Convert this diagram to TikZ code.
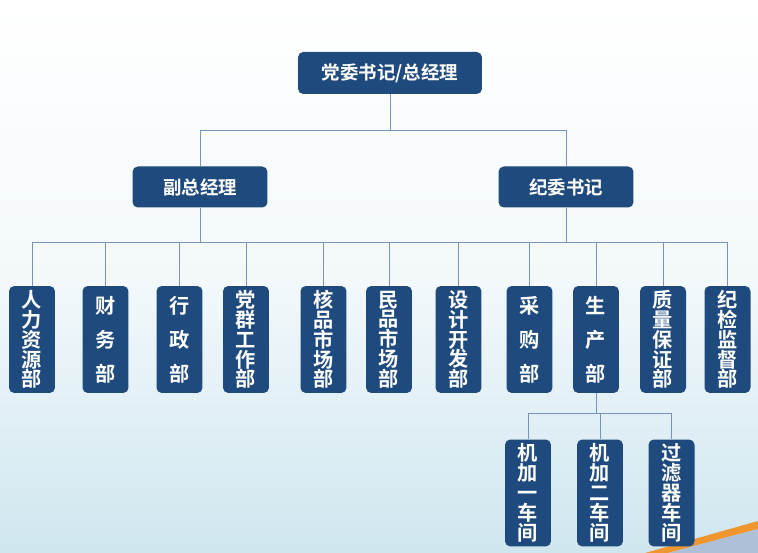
\documentclass[tikz,border=0pt]{standalone}
\usepackage{fontspec}
\newfontfamily\cjk{Noto Sans CJK SC Bold}
\usetikzlibrary{positioning}
\definecolor{boxblue}{HTML}{1F4A7E}
\definecolor{linkblue}{HTML}{7894BE}
\definecolor{bgblue}{HTML}{CFE6EF}
\definecolor{swoosh}{HTML}{F0962E}

\begin{document}
\begin{tikzpicture}[x=0.02cm,y=-0.02cm,
  head/.style={rectangle,rounded corners=3pt,fill=boxblue,text=white,align=center,inner sep=0pt,font=\cjk\fontsize{10.5}{12}\selectfont},
  dept/.style={rectangle,rounded corners=3pt,fill=boxblue,text=white,align=center,inner sep=0pt,minimum width=0.92cm,minimum height=2.14cm,font=\cjk\fontsize{11.5}{11.3}\selectfont},
  link/.style={draw=linkblue,line width=0.5pt}
]

% Hintergrund
\useasboundingbox (0,0) rectangle (758,553);
\shade[top color=white,bottom color=bgblue,middle color=white!75!bgblue] (0,0) rectangle (758,553);
\fill[swoosh] (645,553) -- (758,521) -- (758,529) -- (668,553) -- cycle;
\fill[linkblue!60] (668,553) -- (758,529) -- (758,553) -- cycle;

% Leitung
\node[head,minimum width=3.68cm,minimum height=0.84cm] (top) at (390,73) {党委书记/总经理};
\node[head,minimum width=2.7cm,minimum height=0.82cm] (fu) at (200,187) {副总经理};
\node[head,minimum width=2.7cm,minimum height=0.82cm] (ji) at (566,187) {纪委书记};

% Abteilungen
\node[dept] (hr) at (32,339.5) {人\\力\\资\\源\\部};
\node[dept] (cw) at (105.5,339.5) {财\\[8pt]务\\[8pt]部};
\node[dept] (xz) at (179.5,339.5) {行\\[8pt]政\\[8pt]部};
\node[dept] (dq) at (246,339.5) {党\\群\\工\\作\\部};
\node[dept] (hp) at (323.5,339.5) {核\\品\\市\\场\\部};
\node[dept] (mp) at (389,339.5) {民\\品\\市\\场\\部};
\node[dept] (sj) at (458.5,339.5) {设\\计\\开\\发\\部};
\node[dept] (cg) at (529.5,339.5) {采\\[8pt]购\\[8pt]部};
\node[dept] (sc) at (596,339.5) {生\\[8pt]产\\[8pt]部};
\node[dept] (zl) at (663,339.5) {质\\量\\保\\证\\部};
\node[dept] (jj) at (727.5,339.5) {纪\\检\\监\\督\\部};

% Werkstaetten
\node[dept] (j1) at (528,493) {机\\加\\一\\车\\间};
\node[dept] (j2) at (600,493) {机\\加\\二\\车\\间};
\node[dept] (gl) at (671.5,493) {过\\滤\\器\\车\\间};

% Verbindungen
\coordinate (bus1) at (390,130);
\coordinate (bus2) at (390,242);
\coordinate (bus3) at (600,413);
\draw[link] (top) -- (bus1);
\draw[link] (fu.north) |- (bus1);
\draw[link] (ji.north) |- (bus1);
\draw[link] (fu.south) -- (fu.south |- bus2);
\draw[link] (ji.south) -- (ji.south |- bus2);
\foreach \d in {hr,cw,xz,dq,hp,mp,sj,cg,sc,zl,jj}
  \draw[link] (\d.north) |- (bus2);
\draw[link] (sc.south) |- (bus3);
\foreach \w in {j1,j2,gl}
  \draw[link] (\w.north) |- (bus3);

\end{tikzpicture}
\end{document}
